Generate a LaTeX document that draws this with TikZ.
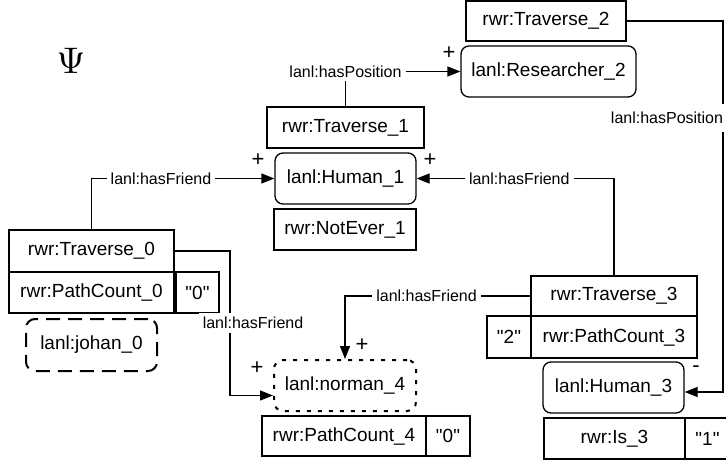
\documentclass[tikz,border=0pt]{standalone}
\usepackage{fontspec}
\setmainfont{Liberation Sans}[Ligatures=TeXOff]
\usetikzlibrary{arrows.meta}
\begin{document}
\begin{tikzpicture}[x=1pt,y=-1pt,
 box/.style={draw, line width=1.3pt, font=\fontsize{19}{22}\selectfont, inner sep=0pt, anchor=center},
 rbox/.style={box, rounded corners=8pt},
 lab/.style={fill=white, font=\fontsize{16}{19}\selectfont, inner sep=4pt},
 conn/.style={line width=1.3pt},
 arr/.style={conn, -{Triangle[length=13pt,width=10pt]}},
 sign/.style={font=\fontsize{22}{24}\selectfont, inner sep=0pt}]
\useasboundingbox (0,0) rectangle (726,466);
\begin{scope}
\clip (0,0) rectangle (726,466);
% symbol
\node[scale=3.7] (psi) at (71,61) {$\Psi$};
% boxes
\node[box, minimum width=160, minimum height=40] (T2) at (546,21) {rwr:Traverse\_2};
\node[rbox, minimum width=175, minimum height=51] (R2) at (548.5,71.5) {lanl:Researcher\_2};
\node[box, minimum width=157, minimum height=41] (T1) at (345.5,127.5) {rwr:Traverse\_1};
\node[rbox, minimum width=141, minimum height=51] (H1) at (345.5,178.5) {lanl:Human\_1};
\node[box, minimum width=142, minimum height=41] (NE1) at (345,229.5) {rwr:NotEver\_1};
\node[box, minimum width=165, minimum height=42] (T0) at (91.5,251) {rwr:Traverse\_0};
\node[box, minimum width=165, minimum height=41] (PC0) at (91.5,292.5) {rwr:PathCount\_0};
\node[box, minimum width=43, minimum height=41] (Q0a) at (197.5,292.5) {"0"};
\node[box, rounded corners=9pt, line width=2pt, dash pattern=on 14pt off 8pt, minimum width=131, minimum height=52] (J0) at (91.5,345) {lanl:johan\_0};
\node[box, rounded corners=9pt, line width=2pt, dash pattern=on 4pt off 7pt, minimum width=142, minimum height=51] (N4) at (345,385.5) {lanl:norman\_4};
\node[box, minimum width=164, minimum height=40] (PC4) at (344,436) {rwr:PathCount\_4};
\node[box, minimum width=44, minimum height=40] (Q0b) at (448,436) {"0"};
\node[box, minimum width=166, minimum height=40] (T3) at (614,296) {rwr:Traverse\_3};
\node[box, minimum width=166, minimum height=42] (PC3) at (614,337) {rwr:PathCount\_3};
\node[box, minimum width=44, minimum height=42] (Q2) at (509,337) {"2"};
\node[rbox, minimum width=141, minimum height=51] (H3) at (613.5,387.5) {lanl:Human\_3};
\node[box, minimum width=141, minimum height=41] (Is3) at (614.5,438.5) {rwr:Is\_3};
\node[box, minimum width=45, minimum height=41] (Q1) at (707.5,438.5) {"1"};
% helper coordinates
\coordinate (kA) at (230,0);
\coordinate (kB) at (723,0);
\coordinate (N4w) at ([yshift=-10pt]N4.west);
\coordinate (H3e) at ([yshift=-4.5pt]H3.east);
% connectors
\draw[arr] (T1.north) |- node[lab, pos=0.5] (LP1) {lanl:hasPosition} (R2.west);
\draw[arr] (T0.north) |- node[lab, pos=0.69] (LF1) {lanl:hasFriend} (H1.west);
\draw[arr] (T3.north) |- node[lab, pos=0.74] (LF3) {lanl:hasFriend} (H1.east);
\draw[arr] (T3.west) -| node[lab, pos=0.28] (LF4) {lanl:hasFriend} (N4.north);
\draw[arr] (T0.east) -- (T0.east -| kA) |- (N4w);
\node[lab] (LF2) at (253,323) {lanl:hasFriend};
\draw[arr] (T2.east) -- (T2.east -| kB) -- (kB |- H3e) -- (H3e);
\node[lab, inner ysep=8pt, inner xsep=2pt] (LP2) at (667,118) {lanl:hasPosition};
% signs
\node[sign] (s1) at (258,160) {+};
\node[sign] (s2) at (430,160) {+};
\node[sign] (s3) at (449,53) {+};
\node[sign] (s4) at (257,368) {+};
\node[sign] (s5) at (362,345) {+};
\node[sign] (s6) at (696,369) {-};
\end{scope}
\end{tikzpicture}
\end{document}
